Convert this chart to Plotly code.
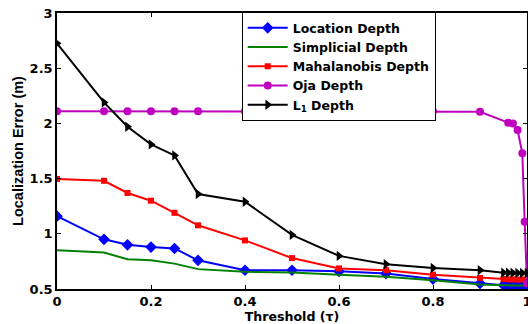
import plotly.graph_objects as go

thresholds = [0, 0.1, 0.15, 0.2, 0.25, 0.3, 0.4, 0.5, 0.6, 0.7, 0.8, 0.9, 0.95, 0.96, 0.97, 0.98, 0.99, 1.0]
location = [1.16, 0.95, 0.90, 0.88, 0.867, 0.76, 0.67, 0.67, 0.66, 0.64, 0.59, 0.55, 0.535, 0.533, 0.532, 0.531, 0.53, 0.53]
simplicial = [0.85, 0.83, 0.77, 0.76, 0.73, 0.68, 0.656, 0.65, 0.63, 0.61, 0.58, 0.54, 0.535, 0.533, 0.532, 0.531, 0.53, 0.53]
mahalanobis = [1.497, 1.48, 1.37, 1.30, 1.19, 1.077, 0.94, 0.78, 0.686, 0.67, 0.63, 0.60, 0.59, 0.588, 0.587, 0.586, 0.585, 0.585]
l1 = [2.725, 2.19, 1.97, 1.81, 1.71, 1.36, 1.29, 0.99, 0.80, 0.725, 0.69, 0.67, 0.648, 0.647, 0.646, 0.645, 0.645, 0.645]

oja_thresholds = [0, 0.1, 0.15, 0.2, 0.25, 0.3, 0.4, 0.5, 0.6, 0.7, 0.8, 0.9, 0.96, 0.97, 0.98, 0.99, 0.995, 1.0]
oja = [2.11, 2.11, 2.11, 2.11, 2.11, 2.11, 2.11, 2.11, 2.11, 2.11, 2.11, 2.106, 2.007, 2.0, 1.94, 1.73, 1.11, 0.55]

x_ticks = [0, 0.2, 0.4, 0.6, 0.8, 1]
x_labels = ["0", "0.2", "0.4", "0.6", "0.8", "1"]
y_ticks = [0.5, 1, 1.5, 2, 2.5, 3]
y_labels = ["0.5", "1", "1.5", "2", "2.5", "3"]

WIDE = "DejaVu Sans, Verdana, sans-serif"
NARROW = "Liberation Sans, Arial, sans-serif"

fig = go.Figure()
fig.add_trace(go.Scatter(x=thresholds, y=location, mode="lines+markers", name="Location Depth",
                         line=dict(color="#0000FF", width=2),
                         marker=dict(symbol="diamond", size=9, color="#0000FF")))
fig.add_trace(go.Scatter(x=thresholds, y=simplicial, mode="lines", name="Simplicial Depth",
                         line=dict(color="#008000", width=2)))
fig.add_trace(go.Scatter(x=thresholds, y=mahalanobis, mode="lines+markers", name="Mahalanobis Depth",
                         line=dict(color="#FF0000", width=2),
                         marker=dict(symbol="square", size=6, color="#FF0000")))
fig.add_trace(go.Scatter(x=oja_thresholds, y=oja, mode="lines+markers", name="Oja Depth",
                         line=dict(color="#BF00BF", width=2),
                         marker=dict(symbol="circle", size=8, color="#BF00BF")))
fig.add_trace(go.Scatter(x=thresholds, y=l1, mode="lines+markers", name="L<sub>1</sub> Depth",
                         line=dict(color="#000000", width=2),
                         marker=dict(symbol="triangle-right", size=9, color="#000000")))

axis_common = dict(showline=True, linecolor="black", linewidth=1.5, mirror="ticks",
                   ticks="inside", ticklen=4, tickcolor="black", showgrid=False, zeroline=False,
                   automargin=False, ticklabeloverflow="allow",
                   tickfont=dict(family=WIDE, size=13, color="black", weight="bold"))

fig.update_xaxes(range=[0, 1], tickvals=x_ticks, ticktext=x_labels, ticklabelstandoff=0,
                 title=dict(text="Threshold (τ)", standoff=0,
                            font=dict(family=WIDE, size=12.6, color="black", weight="bold")),
                 **axis_common)
fig.update_yaxes(range=[0.5, 3], tickvals=y_ticks, ticktext=y_labels,
                 title=dict(text="Localization Error (m)", standoff=3,
                            font=dict(family=NARROW, size=14.5, color="black", weight="bold")),
                 **axis_common)

fig.update_layout(
    width=528, height=324,
    margin=dict(l=57, r=1, t=13, b=35),
    plot_bgcolor="white", paper_bgcolor="white",
    font=dict(family=WIDE, color="black"),
    legend=dict(x=0.393, y=1.003, xanchor="left", yanchor="top",
                bgcolor="white", bordercolor="black", borderwidth=1,
                font=dict(family=WIDE, size=12.5, color="black", weight="bold"),
                tracegroupgap=0, itemwidth=40),
    showlegend=True,
)

fig.write_html("out.html", config={"displayModeBar": False},
               post_script="document.body.style.margin='0px';")
